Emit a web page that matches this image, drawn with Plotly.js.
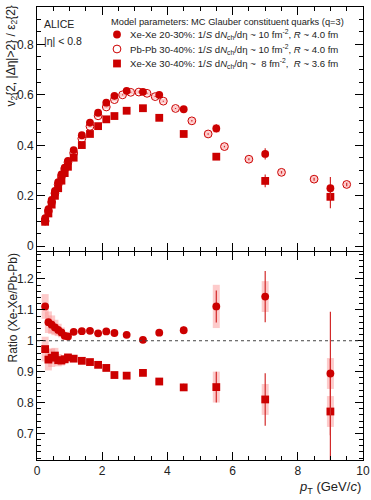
<!DOCTYPE html>
<html>
<head>
<meta charset="utf-8">
<script src="https://cdn.plot.ly/plotly-3.0.1.min.js"></script>
<style>
  html, body { margin: 0; padding: 0; background: #fff; }
  #chart { width: 371px; height: 500px; }
</style>
</head>
<body>
<div id="chart"></div>
<script>
// ---- Data ----
const ptXe = [0.25,0.35,0.45,0.55,0.65,0.75,0.85,0.95,1.125,1.375,1.625,1.875,2.125,2.375,2.75,3.25,3.75,4.5,5.5,7,9];
const ptPb = [0.25,0.35,0.45,0.55,0.65,0.75,0.85,0.95,1.125,1.375,1.625,1.875,2.125,2.375,2.625,2.875,3.125,3.375,3.625,3.875,4.25,4.75,5.25,5.75,6.5,7.5,8.5,9.5];

// v2{2,|dEta|>2}/eps2{2}
const vXe2030 = [0.111,0.147,0.184,0.219,0.254,0.285,0.312,0.338,0.381,0.440,0.490,0.529,0.569,0.596,0.616,0.612,0.600,0.543,0.467,0.366,0.230];
const vXe2030Stat = [0.002,0.002,0.002,0.002,0.002,0.002,0.002,0.002,0.002,0.002,0.003,0.003,0.003,0.003,0.004,0.005,0.006,0.008,0.016,0.022,0.045];
const vXe2030Sys = [0.004,0.004,0.004,0.004,0.004,0.004,0.004,0.004,0.004,0.005,0.005,0.005,0.005,0.005,0.005,0.005,0.006,0.008,0.016,0.012,0.012];

const vPb3040 = [0.100,0.139,0.175,0.210,0.245,0.277,0.307,0.333,0.370,0.427,0.475,0.517,0.552,0.581,0.600,0.610,0.611,0.606,0.593,0.575,0.546,0.497,0.445,0.395,0.345,0.293,0.266,0.245];
const vPb3040Stat = [0.001,0.001,0.001,0.001,0.001,0.001,0.001,0.001,0.001,0.001,0.001,0.001,0.001,0.001,0.002,0.002,0.002,0.002,0.002,0.002,0.002,0.003,0.003,0.003,0.004,0.005,0.006,0.007];
const vPb3040Sys = [0.004,0.004,0.004,0.004,0.005,0.005,0.005,0.005,0.006,0.006,0.006,0.007,0.007,0.007,0.008,0.008,0.008,0.008,0.009,0.009,0.010,0.011,0.011,0.012,0.012,0.012,0.012,0.012];

const vXe3040 = [0.097,0.130,0.165,0.200,0.230,0.260,0.290,0.315,0.351,0.401,0.445,0.476,0.503,0.516,0.537,0.547,0.509,0.445,0.355,0.259,0.196];
const vXe3040Stat = [0.002,0.002,0.002,0.002,0.002,0.002,0.002,0.002,0.002,0.002,0.003,0.003,0.003,0.003,0.004,0.005,0.006,0.008,0.012,0.025,0.045];
const vXe3040Sys = [0.004,0.004,0.004,0.004,0.004,0.004,0.004,0.004,0.004,0.005,0.005,0.005,0.005,0.005,0.005,0.005,0.006,0.007,0.010,0.010,0.012];

// Ratio Xe-Xe / Pb-Pb
const rXe2030 = [1.111,1.060,1.052,1.043,1.035,1.027,1.016,1.014,1.029,1.031,1.032,1.024,1.030,1.025,1.019,1.003,1.026,1.034,1.111,1.143,0.894];
const rXe2030Stat = [0.004,0.004,0.004,0.004,0.004,0.004,0.004,0.004,0.004,0.004,0.004,0.004,0.005,0.005,0.005,0.006,0.007,0.012,0.052,0.083,0.200];
const rXe2030Sys = [0.040,0.035,0.030,0.025,0.020,0.016,0.013,0.010,0.007,0.006,0.006,0.006,0.006,0.006,0.006,0.007,0.007,0.009,0.070,0.050,0.050];

const rXe3040 = [0.973,0.939,0.945,0.952,0.937,0.936,0.940,0.946,0.942,0.935,0.931,0.922,0.912,0.889,0.887,0.896,0.868,0.849,0.850,0.810,0.771];
const rXe3040Stat = [0.004,0.004,0.004,0.004,0.004,0.004,0.004,0.004,0.004,0.004,0.004,0.004,0.005,0.005,0.005,0.006,0.010,0.012,0.050,0.085,0.170];
const rXe3040Sys = [0.040,0.035,0.030,0.025,0.020,0.016,0.013,0.010,0.007,0.006,0.006,0.006,0.006,0.006,0.006,0.007,0.007,0.009,0.050,0.050,0.050];

const legendTitle = 'Model parameters: MC Glauber constituent quarks (q=3)';
const legendNames = [
  'Xe-Xe 20-30%: 1/<i>S</i> d<i>N</i><sub>ch</sub>/dη ~ 10 fm<sup>-2</sup>, <i>R</i> ~ 4.0 fm',
  'Pb-Pb 30-40%: 1/<i>S</i> d<i>N</i><sub>ch</sub>/dη ~ 10 fm<sup>-2</sup>, <i>R</i> ~ 4.0 fm',
  'Xe-Xe 30-40%: 1/<i>S</i> d<i>N</i><sub>ch</sub>/dη ~  8 fm<sup>-2</sup>,  <i>R</i> ~ 3.6 fm'
];

// ---- Styles ----
const RED = '#cc0000';
const STATC = '#d22a2a';
const SYSC = 'rgba(250,130,130,0.42)';
const FONT = 'Liberation Sans, Arial, Helvetica, sans-serif';
const W = 371, H = 500, ML = 37, MR = 8, MT = 7, MB = 40;
const PW = W - ML - MR, PH = H - MT - MB;
const px2x = p => (p - ML) / PW;
const px2y = p => (H - MB - p) / PH;

function sysTrace(x, y, e, xa, ya) {
  return {x: x, y: y, xaxis: xa, yaxis: ya, type: 'scatter', mode: 'markers',
    marker: {opacity: 0, size: 1}, showlegend: false, hoverinfo: 'skip',
    error_y: {type: 'data', array: e, visible: true, thickness: 7, width: 0, color: SYSC}};
}
function ptTrace(x, y, e, xa, ya, symbol, open) {
  return {x: x, y: y, xaxis: xa, yaxis: ya, type: 'scatter', mode: 'markers',
    showlegend: false, hoverinfo: 'skip',
    marker: {symbol: symbol, size: 7.8, color: open ? 'rgba(255,255,255,0)' : RED,
      line: {color: RED, width: open ? 1 : 0}},
    error_y: {type: 'data', array: e, visible: true, thickness: 1.2, width: 0, color: STATC}};
}

const traces = [
  sysTrace(ptPb, vPb3040, vPb3040Sys, 'x', 'y'),
  sysTrace(ptXe, vXe3040, vXe3040Sys, 'x', 'y'),
  sysTrace(ptXe, vXe2030, vXe2030Sys, 'x', 'y'),
  ptTrace(ptPb, vPb3040, vPb3040Stat, 'x', 'y', 'circle', true),
  ptTrace(ptXe, vXe3040, vXe3040Stat, 'x', 'y', 'square', false),
  ptTrace(ptXe, vXe2030, vXe2030Stat, 'x', 'y', 'circle', false),
  sysTrace(ptXe, rXe3040, rXe3040Sys, 'x2', 'y2'),
  sysTrace(ptXe, rXe2030, rXe2030Sys, 'x2', 'y2'),
  ptTrace(ptXe, rXe3040, rXe3040Stat, 'x2', 'y2', 'square', false),
  ptTrace(ptXe, rXe2030, rXe2030Stat, 'x2', 'y2', 'circle', false)
];

const axisCommon = {
  showline: true, linecolor: '#000', linewidth: 1, mirror: 'allticks',
  ticks: 'inside', ticklen: 8, tickwidth: 1, tickcolor: '#000',
  showgrid: false, zeroline: false,
  tickfont: {family: FONT, size: 12, color: '#222'}
};

// legend keys (pixel positions of the key boxes)
const keyX = 117, keyRows = [34.5, 49, 63.5], keyR = 3.9;
const keyShapes = keyRows.map((ry, i) => ({
  type: i === 2 ? 'rect' : 'circle', xref: 'paper', yref: 'paper',
  x0: px2x(keyX - keyR), x1: px2x(keyX + keyR), y0: px2y(ry + keyR), y1: px2y(ry - keyR),
  fillcolor: i === 1 ? '#fff' : RED, line: {color: RED, width: i === 1 ? 1 : 0}
}));
const keyTexts = keyRows.map((ry, i) => ({
  xref: 'paper', yref: 'paper', x: px2x(128), y: px2y(ry), xanchor: 'left', yanchor: 'middle',
  showarrow: false, text: legendNames[i], font: {family: FONT, size: 9.6, color: '#222'}
}));

const layout = {
  width: W, height: H,
  margin: {l: ML, r: MR, t: MT, b: MB},
  paper_bgcolor: '#fff', plot_bgcolor: '#fff',
  font: {family: FONT, color: '#222'},
  showlegend: false,
  xaxis: Object.assign({}, axisCommon, {domain: [0, 1], range: [0, 10], anchor: 'y', dtick: 2,
    showticklabels: false, minor: {dtick: 0.5, ticks: 'inside', ticklen: 4, tickcolor: '#000', showgrid: false}}),
  yaxis: Object.assign({}, axisCommon, {domain: [0.4614, 1], range: [-0.0186, 0.948], anchor: 'x', dtick: 0.2,
    minor: {dtick: 0.05, ticks: 'inside', ticklen: 4, tickcolor: '#000', showgrid: false}}),
  xaxis2: Object.assign({}, axisCommon, {domain: [0, 1], range: [0, 10], anchor: 'y2', dtick: 2, matches: 'x',
    minor: {dtick: 0.5, ticks: 'inside', ticklen: 4, tickcolor: '#000', showgrid: false}}),
  yaxis2: Object.assign({}, axisCommon, {domain: [0, 0.459], range: [0.614, 1.287], anchor: 'x2', dtick: 0.1,
    minor: {dtick: 0.02, ticks: 'inside', ticklen: 4, tickcolor: '#000', showgrid: false}}),
  shapes: [
    {type: 'line', xref: 'x2', yref: 'y2', x0: 0, x1: 10, y0: 1, y1: 1,
     line: {color: '#444', width: 1, dash: 'dot'}}
  ].concat(keyShapes),
  annotations: [
    {xref: 'paper', yref: 'paper', x: px2x(42), y: px2y(24.5), xanchor: 'left', yanchor: 'middle', showarrow: false,
     text: 'ALICE', font: {family: FONT, size: 10.5, color: '#222'}},
    {xref: 'paper', yref: 'paper', x: px2x(42), y: px2y(41.5), xanchor: 'left', yanchor: 'middle', showarrow: false,
     text: '|η| < 0.8', font: {family: FONT, size: 10.5, color: '#222'}},
    {xref: 'paper', yref: 'paper', x: px2x(109), y: px2y(22), xanchor: 'left', yanchor: 'middle', showarrow: false,
     text: legendTitle, font: {family: FONT, size: 9.3, color: '#222'}},
    {xref: 'paper', yref: 'paper', x: px2x(12), y: px2y(4), xanchor: 'center', yanchor: 'top', showarrow: false,
     textangle: -90, text: 'v<sub>2</sub>{2, |Δη|>2} / ε<sub>2</sub>{2}', font: {family: FONT, size: 12, color: '#222'}},
    {xref: 'paper', yref: 'paper', x: px2x(12), y: px2y(252), xanchor: 'center', yanchor: 'top', showarrow: false,
     textangle: -90, text: 'Ratio (Xe-Xe/Pb-Pb)', font: {family: FONT, size: 12, color: '#222'}},
    {xref: 'paper', yref: 'paper', x: 1.0, y: px2y(487), xanchor: 'right', yanchor: 'middle', showarrow: false,
     text: '<i>p</i><sub>T</sub> (GeV/<i>c</i>)', font: {family: FONT, size: 13, color: '#222'}}
  ].concat(keyTexts)
};

Plotly.newPlot('chart', traces, layout, {staticPlot: true, displayModeBar: false});
</script>
</body>
</html>
